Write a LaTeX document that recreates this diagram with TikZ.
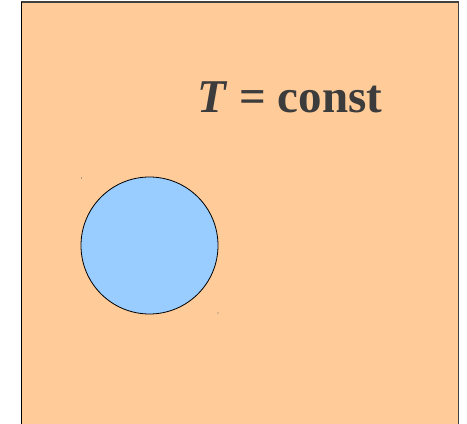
\documentclass[tikz,border=0pt]{standalone}
\usepackage{fontspec}
\setmainfont{Liberation Serif}
\usepackage{xcolor}
\usepackage{tikz}

\definecolor{hotfill}{HTML}{FFCC99}
\definecolor{coldfill}{HTML}{99CCFF}
\definecolor{labelgray}{HTML}{3C3C3C}

\begin{document}
\begin{tikzpicture}[
    x=1pt,
    y=1pt,
    bath/.style={
        fill=hotfill,
        draw=black!75,
        line width=1.2pt
    },
    body/.style={
        circle,
        draw,
        fill=coldfill,
        line width=0.8pt,
        minimum size=137pt,
        inner sep=0pt
    },
    handle/.style={
        fill=black!60
    }
]

\useasboundingbox (0,0) rectangle (467,424);
\clip (0,0) rectangle (467,424);

% Domain held at constant temperature
\draw[
    bath
] (21.5,-10) rectangle (458.5,422);

\draw[
    black,
    line width=1.6pt
] (21.5,-10) -- (21.5,422);

\node[
    font=\fontsize{47}{50}\selectfont\bfseries,
    text=labelgray,
    anchor=base west,
    inner sep=0pt
] (label) at (197,311) {
    \textit{T} = const
};

% Inclusion
\node[
    body
] (inclusion) at (149.5,178.5) {};

% Selection handles
\fill[
    handle
] (81.5,246) circle (0.6);

\fill[
    handle
] (218,111) circle (0.6);

\end{tikzpicture}
\end{document}
